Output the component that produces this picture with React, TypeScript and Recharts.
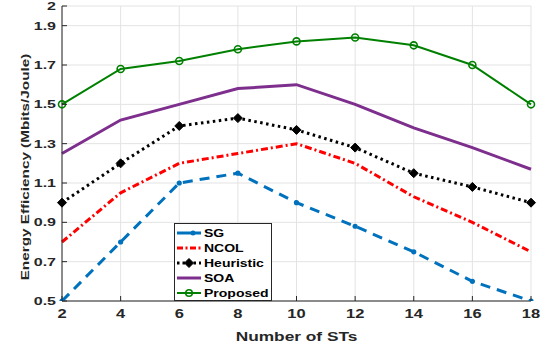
import React from 'react';
import { LineChart, Line, XAxis, YAxis, CartesianGrid } from 'recharts';

const xValues = [2, 4, 6, 8, 10, 12, 14, 16, 18];
const sg = [0.5, 0.8, 1.1, 1.15, 1.0, 0.88, 0.75, 0.6, 0.5];
const ncol = [0.8, 1.05, 1.2, 1.25, 1.3, 1.2, 1.03, 0.9, 0.75];
const heuristic = [1.0, 1.2, 1.39, 1.43, 1.37, 1.28, 1.15, 1.08, 1.0];
const soa = [1.25, 1.42, 1.5, 1.58, 1.6, 1.5, 1.38, 1.28, 1.17];
const proposed = [1.5, 1.68, 1.72, 1.78, 1.82, 1.84, 1.8, 1.7, 1.5];

const xTicks = [2, 4, 6, 8, 10, 12, 14, 16, 18];
const yTicks = [0.5, 0.7, 0.9, 1.1, 1.3, 1.5, 1.7, 1.9, 2];
const xLabel = 'Number of STs';
const yLabel = 'Energy Efficiency (Mbits/Joule)';

const data = xValues.map((x, i) => ({
  x,
  sg: sg[i],
  ncol: ncol[i],
  heuristic: heuristic[i],
  soa: soa[i],
  proposed: proposed[i],
}));

const FONT = '"Liberation Sans", Arial, Helvetica, sans-serif';
const TXT = '#262626';
const SQ = 0.72; // vertical squash of text seen in the reference

const C_SG = '#0072BD';
const C_NCOL = '#FF0000';
const C_HEU = '#000000';
const C_SOA = '#7E2F8E';
const C_PRO = '#008000';

const diamond = (cx: number, cy: number, r: number, key?: any) => (
  <path
    key={key}
    d={`M${cx},${cy - r} L${cx + r},${cy} L${cx},${cy + r} L${cx - r},${cy} Z`}
    fill="#000"
    stroke="#000"
    strokeWidth={1}
  />
);

const series = [
  { key: 'sg', name: 'SG', color: C_SG, width: 3, dash: '10 7', marker: 'dot' },
  { key: 'ncol', name: 'NCOL', color: C_NCOL, width: 3, dash: '7 3 2 3', marker: 'none' },
  { key: 'heuristic', name: 'Heuristic', color: C_HEU, width: 3, dash: '2.5 3.5', marker: 'diamond' },
  { key: 'soa', name: 'SOA', color: C_SOA, width: 3, dash: undefined, marker: 'none' },
  { key: 'proposed', name: 'Proposed', color: C_PRO, width: 2, dash: undefined, marker: 'circle' },
];

const renderDot = (marker: string, color: string) => (props: any) => {
  const { cx, cy, index } = props;
  const k = `${marker}-${index}`;
  if (marker === 'dot') return <circle key={k} cx={cx} cy={cy} r={2.6} fill={color} stroke="none" />;
  if (marker === 'diamond') return diamond(cx, cy, 4.5, k);
  if (marker === 'circle')
    return <circle key={k} cx={cx} cy={cy} r={3.5} fill="none" stroke={color} strokeWidth={1.6} />;
  return <g key={k} />;
};

const XTick = (props: any) => {
  const { x, y, payload } = props;
  // y = axis line + tickMargin (tickSize 0)
  const axisY = y - 13;
  return (
    <g>
      <line x1={x} x2={x} y1={axisY} y2={axisY - 5} stroke={TXT} strokeWidth={1} />
      <text
        transform={`translate(${x},${y}) scale(1,${SQ})`}
        textAnchor="middle"
        dominantBaseline="central"
        fill={TXT}
        fontFamily={FONT}
        fontWeight="bold"
        fontSize={16.5}
      >
        {String(payload.value)}
      </text>
    </g>
  );
};

const YTick = (props: any) => {
  const { x, y, payload } = props;
  const axisX = x + 6;
  return (
    <g>
      <line x1={axisX} x2={axisX + 5} y1={y} y2={y} stroke={TXT} strokeWidth={1} />
      <text
        transform={`translate(${x},${y}) scale(1,${SQ})`}
        textAnchor="end"
        dominantBaseline="central"
        fill={TXT}
        fontFamily={FONT}
        fontWeight="bold"
        fontSize={16}
      >
        {String(payload.value)}
      </text>
    </g>
  );
};

const LegendBox = () => (
  <div
    style={{
      position: 'absolute',
      left: 174,
      top: 223,
      width: 98,
      height: 78,
      border: '1px solid #262626',
      background: '#fff',
      boxSizing: 'border-box',
      paddingTop: 2,
    }}
  >
    {series.map((s) => (
      <div key={s.key} style={{ display: 'flex', alignItems: 'center', height: 14.8 }}>
        <svg width={28} height={12} style={{ display: 'block' }}>
          <line
            x1={2}
            x2={26}
            y1={6}
            y2={6}
            stroke={s.color}
            strokeWidth={s.width}
            strokeDasharray={s.key === 'heuristic' ? '2.5 3' : s.key === 'ncol' ? '6 2.5 2 2.5' : undefined}
          />
          {s.marker === 'dot' && <circle cx={18} cy={6} r={2.5} fill={s.color} />}
          {s.marker === 'diamond' && diamond(14, 6, 4.5)}
          {s.marker === 'circle' && <circle cx={14} cy={6} r={3.3} fill="none" stroke={s.color} strokeWidth={1.6} />}
        </svg>
        <span
          style={{
            fontFamily: FONT,
            fontWeight: 'bold',
            fontSize: 14,
            color: '#000',
            lineHeight: '14px',
            marginLeft: 1,
            display: 'inline-block',
            transform: `scaleY(${SQ + 0.05})`,
          }}
        >
          {s.name}
        </span>
      </div>
    ))}
  </div>
);

export default function App() {
  return (
    <div style={{ position: 'absolute', left: 0, top: 0, width: 547, height: 346, background: '#fff' }}>
      <LineChart width={547} height={346} data={data} margin={{ top: 6, right: 16, left: 0, bottom: 0 }}>
        <CartesianGrid stroke="#e3e3e3" strokeWidth={1} />
        <XAxis
          dataKey="x"
          type="number"
          domain={[2, 18]}
          ticks={xTicks}
          interval={0}
          height={45}
          tickLine={false}
          tickSize={0}
          tickMargin={13}
          axisLine={{ stroke: TXT, strokeWidth: 1 }}
          tick={<XTick />}
          label={{
            content: (p: any) => {
              const vb = p.viewBox || {};
              const cx = vb.x + vb.width / 2;
              return (
                <text
                  transform={`translate(${cx},340.5) scale(1,${SQ + 0.02})`}
                  textAnchor="middle"
                  fill={TXT}
                  fontFamily={FONT}
                  fontWeight="bold"
                  fontSize={17.3}
                >
                  {xLabel}
                </text>
              );
            },
          }}
        />
        <XAxis
          xAxisId="top"
          dataKey="x"
          type="number"
          orientation="top"
          domain={[2, 18]}
          ticks={xTicks}
          interval={0}
          height={0}
          mirror
          tickSize={5}
          tickLine={{ stroke: TXT }}
          axisLine={{ stroke: TXT, strokeWidth: 1 }}
          tick={() => <g />}
        />
        <YAxis
          type="number"
          domain={[0.5, 2]}
          ticks={yTicks}
          interval={0}
          width={62}
          tickLine={false}
          tickSize={0}
          tickMargin={6}
          axisLine={{ stroke: TXT, strokeWidth: 1 }}
          tick={<YTick />}
          allowDataOverflow
          label={{
            content: () => (
              <text
                transform={`translate(25,167) rotate(-90) scale(1,${SQ + 0.02})`}
                textAnchor="middle"
                dominantBaseline="central"
                fill={TXT}
                fontFamily={FONT}
                fontWeight="bold"
                fontSize={15.3}
              >
                {yLabel}
              </text>
            ),
          }}
        />
        <YAxis
          yAxisId="right"
          orientation="right"
          type="number"
          domain={[0.5, 2]}
          ticks={yTicks}
          interval={0}
          width={0}
          mirror
          tickSize={5}
          tickLine={{ stroke: TXT }}
          axisLine={{ stroke: TXT, strokeWidth: 1 }}
          tick={() => <g />}
        />
        {series.map((s) => (
          <Line
            key={s.key}
            type="linear"
            dataKey={s.key}
            name={s.name}
            stroke={s.color}
            strokeWidth={s.width}
            strokeDasharray={s.dash}
            dot={renderDot(s.marker, s.color)}
            activeDot={false}
            isAnimationActive={false}
          />
        ))}
      </LineChart>
      <LegendBox />
    </div>
  );
}
